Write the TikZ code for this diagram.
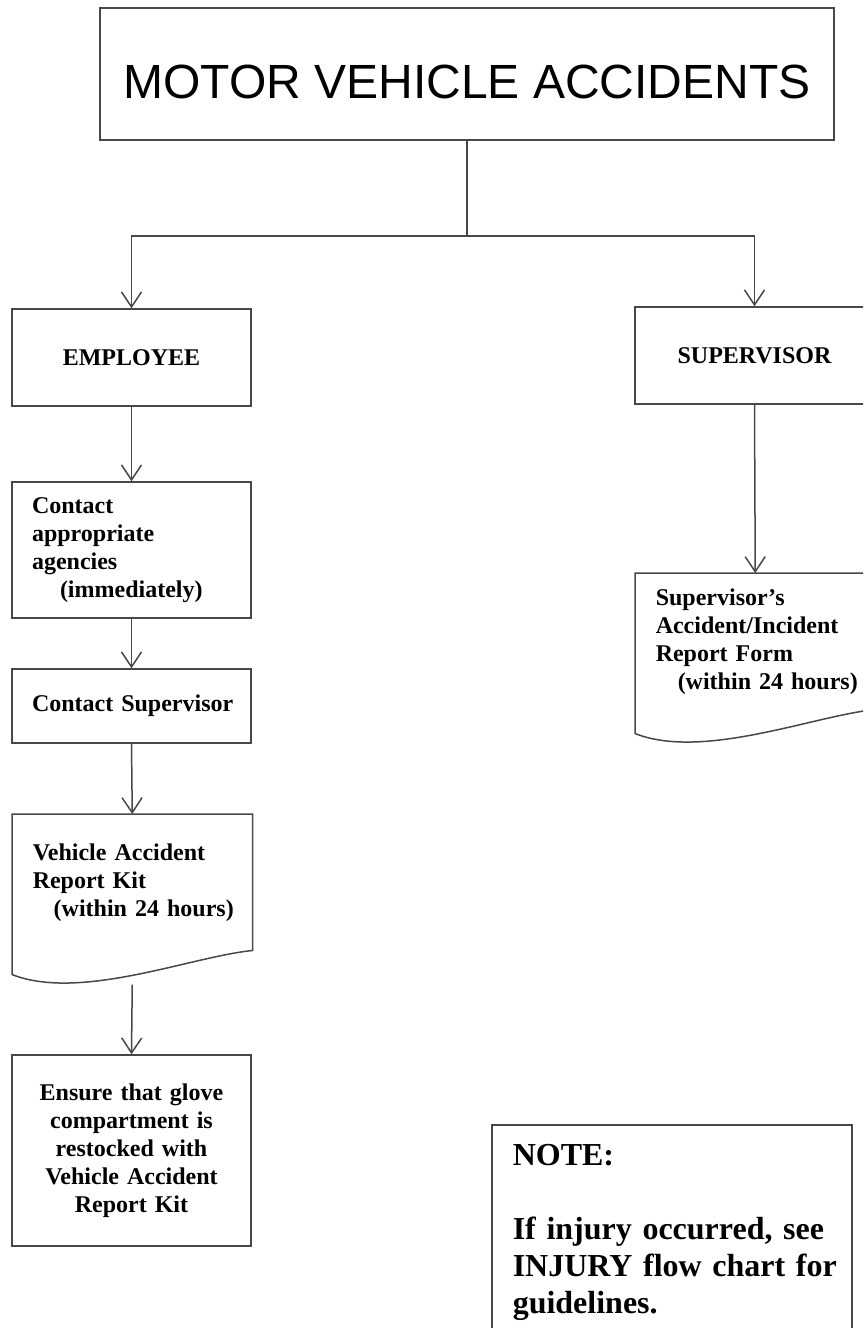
\documentclass[tikz,border=0pt]{standalone}
\usepackage{fontspec}
\setmainfont{Liberation Serif}
\newfontfamily\titlefont{Liberation Sans}
\usepackage{xcolor}
\definecolor{ln}{RGB}{72,72,72}
\usepackage{tikz}
\usetikzlibrary{arrows.meta,calc}
\newcommand\bodyfont{\fontsize{24pt}{28pt}\selectfont\bfseries}
\newcommand\notefont{\fontsize{32pt}{37pt}\selectfont\bfseries}

\begin{document}
\begin{tikzpicture}[x=1pt,y=-1pt,
  edge/.style={draw=ln,line width=1.5pt},
  flow/.style={edge,-{Straight Barb[length=15pt,width=20pt]}},
  box/.style={edge,rectangle,minimum width=239pt,inner xsep=10pt,inner ysep=0pt,text width=219pt,font=\bodyfont},
  lbox/.style={box,align=left,execute at begin node={\leftskip=10pt}},
  cbox/.style={box,align=center},
  doc/.style={lbox,draw=none,minimum height=135pt},
  headline/.style={edge,minimum width=734pt,minimum height=132pt,text height=48pt,text depth=0pt,font=\titlefont\fontsize{48pt}{52pt}\selectfont},
  notebox/.style={edge,inner xsep=11pt,inner ysep=20pt,text width=338pt,align=left,font=\notefont,execute at begin node={\leftskip=10pt}}]
  \useasboundingbox (0,0) rectangle (863,1328);
  \clip (0,0) rectangle (863,1328);
  \node[headline] (title) at (467,74) {MOTOR VEHICLE ACCIDENTS};
  \node[cbox,minimum height=97pt] (emp) at (131.5,357.5) {EMPLOYEE};
  \node[cbox,minimum height=97pt] (sup) at (754.5,355.5) {SUPERVISOR};
  \node[lbox,minimum height=136pt] (agency) at (131.5,550) {Contact\\appropriate\\agencies\\\hspace*{28pt}(immediately)};
  \node[lbox,minimum height=74pt] (call) at (131.5,706) {Contact Supervisor};
  \node[doc,anchor=north west] (kit) at (12,814) {Vehicle Accident\\Report Kit\\\hspace*{21pt}(within 24 hours)};
  \draw[edge] (kit.north west) -- (kit.north east) -- (kit.south east)
    .. controls ($(kit.south east)+(-61,6)$) and ($(kit.south west)+(68,51)$) .. ($(kit.south west)+(0,24)$) -- cycle;
  \coordinate (kitend) at ($(kit.south)+(0,34)$);
  \node[cbox,minimum height=191pt] (glove) at (131.5,1150.5) {Ensure that glove\\compartment is\\restocked with\\Vehicle Accident\\Report Kit};
  \node[doc,anchor=north west] (form) at (635,573) {Supervisor’s\\Accident/Incident\\Report Form\\\hspace*{22pt}(within 24 hours)};
  \draw[edge] (form.north west) -- (form.north east) -- (form.south east)
    .. controls ($(form.south east)+(-61,6)$) and ($(form.south west)+(68,51)$) .. ($(form.south west)+(0,24)$) -- cycle;
  \node[notebox,anchor=north west] (note) at (491,1124) {NOTE:\\[37pt]If injury occurred, see\\INJURY flow chart for\\guidelines.};
  \coordinate (split) at (467,236);
  \draw[edge] (title.south) -- (split);
  \draw[flow] (split) -| (emp.north);
  \draw[flow] (split) -| (sup.north);
  \draw[flow] (emp.south) -- (agency.north);
  \draw[flow] (agency.south) -- (call.north);
  \draw[flow] (call.south) -- (kit.north);
  \draw[flow] (kitend) -- (glove.north);
  \draw[flow] (sup.south) -- (form.north);
\end{tikzpicture}
\end{document}
